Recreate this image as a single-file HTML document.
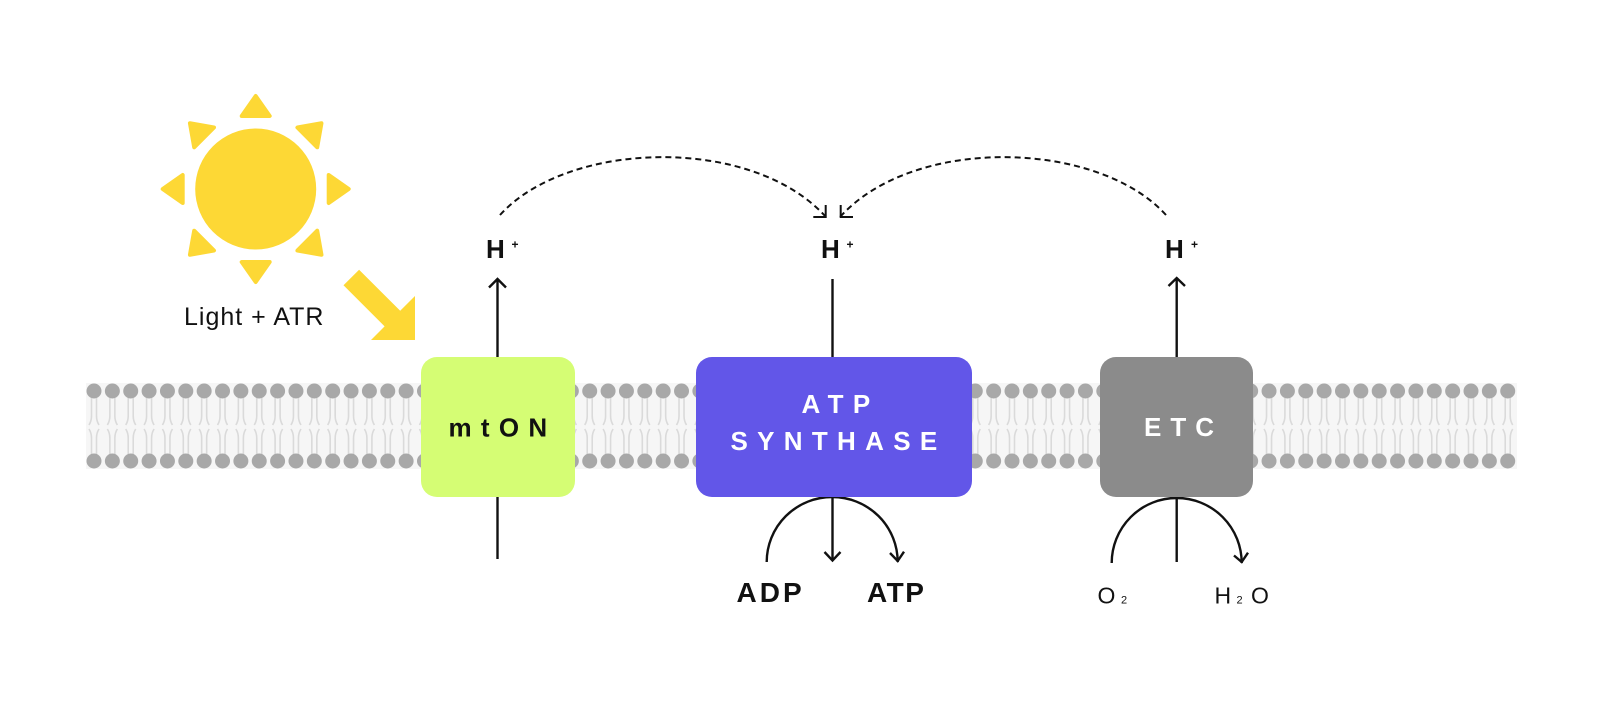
<!DOCTYPE html>
<html>
<head>
<meta charset="utf-8">
<style>
  html, body { margin: 0; padding: 0; background: #ffffff; }
  body { width: 1600px; height: 715px; overflow: hidden; }
  svg { display: block; }
  text { font-family: "Liberation Sans", "DejaVu Sans", sans-serif; }
</style>
</head>
<body>
<svg width="1600" height="715" viewBox="0 0 1600 715" xmlns="http://www.w3.org/2000/svg">
  <defs>
    <g id="lip">
      <path d="M-2.5,398 V416 Q-2.5,421 -5,425 M2.5,398 V416 Q2.5,421 5,425 M-5,429 Q-2.5,433 -2.5,438 V454 M5,429 Q2.5,433 2.5,438 V454" stroke="#dadada" stroke-width="1.6" fill="none"/>
      <circle cx="0" cy="391" r="7.5" fill="#a8a8a8"/>
      <circle cx="0" cy="461" r="7.5" fill="#a8a8a8"/>
    </g>
    <polygon id="ray" points="0,-93 14,-73 -14,-73" fill="#fdd835" stroke="#fdd835" stroke-width="4" stroke-linejoin="round"/>
  </defs>

  <rect x="0" y="0" width="1600" height="715" fill="#ffffff"/>

  <!-- membrane band -->
  <rect x="86" y="383" width="1431" height="86" fill="#f6f6f6"/>
  <g>
    <use href="#lip" x="94.00"/><use href="#lip" x="112.36"/><use href="#lip" x="130.72"/><use href="#lip" x="149.08"/>
    <use href="#lip" x="167.44"/><use href="#lip" x="185.80"/><use href="#lip" x="204.16"/><use href="#lip" x="222.52"/>
    <use href="#lip" x="240.88"/><use href="#lip" x="259.24"/><use href="#lip" x="277.60"/><use href="#lip" x="295.96"/>
    <use href="#lip" x="314.32"/><use href="#lip" x="332.68"/><use href="#lip" x="351.04"/><use href="#lip" x="369.40"/>
    <use href="#lip" x="387.76"/><use href="#lip" x="406.12"/><use href="#lip" x="424.48"/><use href="#lip" x="442.84"/>
    <use href="#lip" x="461.20"/><use href="#lip" x="479.56"/><use href="#lip" x="497.92"/><use href="#lip" x="516.28"/>
    <use href="#lip" x="534.64"/><use href="#lip" x="553.00"/><use href="#lip" x="571.36"/><use href="#lip" x="589.72"/>
    <use href="#lip" x="608.08"/><use href="#lip" x="626.44"/><use href="#lip" x="644.80"/><use href="#lip" x="663.16"/>
    <use href="#lip" x="681.52"/><use href="#lip" x="699.88"/><use href="#lip" x="718.24"/><use href="#lip" x="736.60"/>
    <use href="#lip" x="754.96"/><use href="#lip" x="773.32"/><use href="#lip" x="791.68"/><use href="#lip" x="810.04"/>
    <use href="#lip" x="828.40"/><use href="#lip" x="846.76"/><use href="#lip" x="865.12"/><use href="#lip" x="883.48"/>
    <use href="#lip" x="901.84"/><use href="#lip" x="920.20"/><use href="#lip" x="938.56"/><use href="#lip" x="956.92"/>
    <use href="#lip" x="975.28"/><use href="#lip" x="993.64"/><use href="#lip" x="1012.00"/><use href="#lip" x="1030.36"/>
    <use href="#lip" x="1048.72"/><use href="#lip" x="1067.08"/><use href="#lip" x="1085.44"/><use href="#lip" x="1103.80"/>
    <use href="#lip" x="1122.16"/><use href="#lip" x="1140.52"/><use href="#lip" x="1158.88"/><use href="#lip" x="1177.24"/>
    <use href="#lip" x="1195.60"/><use href="#lip" x="1213.96"/><use href="#lip" x="1232.32"/><use href="#lip" x="1250.68"/>
    <use href="#lip" x="1269.04"/><use href="#lip" x="1287.40"/><use href="#lip" x="1305.76"/><use href="#lip" x="1324.12"/>
    <use href="#lip" x="1342.48"/><use href="#lip" x="1360.84"/><use href="#lip" x="1379.20"/><use href="#lip" x="1397.56"/>
    <use href="#lip" x="1415.92"/><use href="#lip" x="1434.28"/><use href="#lip" x="1452.64"/><use href="#lip" x="1471.00"/>
    <use href="#lip" x="1489.36"/><use href="#lip" x="1507.72"/>
  </g>

  <!-- sun -->
  <g transform="translate(255.7,189)">
    <circle cx="0" cy="0" r="60.5" fill="#fdd835"/>
    <use href="#ray"/>
    <use href="#ray" transform="rotate(45)"/>
    <use href="#ray" transform="rotate(90)"/>
    <use href="#ray" transform="rotate(135)"/>
    <use href="#ray" transform="rotate(180)"/>
    <use href="#ray" transform="rotate(225)"/>
    <use href="#ray" transform="rotate(270)"/>
    <use href="#ray" transform="rotate(315)"/>
  </g>

  <!-- yellow arrow -->
  <polygon points="359.1,269.7 400.2,310.8 415,296 415,340 371,340 384.6,326.4 343.5,285.3" fill="#fdd835"/>

  <text x="184" y="325" font-size="25" letter-spacing="1" fill="#111">Light + ATR</text>

  <!-- dashed curves -->
  <path d="M500,215 C568,140 752,135 826,217" fill="none" stroke="#111" stroke-width="2" stroke-dasharray="6 4"/>
  <path d="M1166,215 C1098,140 914,135 840,217" fill="none" stroke="#111" stroke-width="2" stroke-dasharray="6 4"/>
  <polyline points="813.3,217 825.7,217 825.7,205" fill="none" stroke="#111" stroke-width="2"/>
  <polyline points="853,217 840.7,217 840.7,205" fill="none" stroke="#111" stroke-width="2"/>

  <!-- H+ labels -->
  <text x="486" y="258" font-size="26" font-weight="bold" fill="#111">H</text>
  <text x="511.5" y="248.5" font-size="12" font-weight="bold" fill="#111">+</text>
  <text x="821" y="258" font-size="26" font-weight="bold" fill="#111">H</text>
  <text x="846.5" y="248.5" font-size="12" font-weight="bold" fill="#111">+</text>
  <text x="1165" y="258" font-size="26" font-weight="bold" fill="#111">H</text>
  <text x="1191" y="248.5" font-size="12" font-weight="bold" fill="#111">+</text>

  <!-- vertical lines -->
  <g stroke="#111" stroke-width="2.4" fill="none">
    <line x1="497.5" y1="279" x2="497.5" y2="559"/>
    <polyline points="489,287.5 497.5,279 506,287.5"/>
    <line x1="832.5" y1="279" x2="832.5" y2="560"/>
    <polyline points="824.5,552 832.5,560.5 840.5,552"/>
    <line x1="1176.7" y1="278" x2="1176.7" y2="562"/>
    <polyline points="1168.5,286 1176.7,278 1185,286"/>
    <!-- arcs -->
    <path d="M766.7,562 A65.5,65 0 0 1 897.7,562"/>
    <polyline points="890,553 897.7,561 904,551.7"/>
    <path d="M1111.7,563 A65,65 0 0 1 1241.7,563"/>
    <polyline points="1234,555.5 1241.7,562 1248,552.7"/>
  </g>

  <!-- boxes -->
  <rect x="421" y="357" width="154" height="140" rx="16" ry="16" fill="#d5fd74"/>
  <rect x="696" y="357" width="276" height="140" rx="16" ry="16" fill="#6256e8"/>
  <rect x="1100" y="357" width="153" height="140" rx="16" ry="16" fill="#8b8b8b"/>

  <text x="502.5" y="436.5" text-anchor="middle" font-size="26" font-weight="bold" letter-spacing="9.3" fill="#111">mtON</text>
  <text x="840.5" y="413" text-anchor="middle" font-size="26" font-weight="bold" letter-spacing="9.3" fill="#ffffff">ATP</text>
  <text x="838.5" y="450" text-anchor="middle" font-size="26" font-weight="bold" letter-spacing="9.3" fill="#ffffff">SYNTHASE</text>
  <text x="1183.5" y="436" text-anchor="middle" font-size="26" font-weight="bold" letter-spacing="9" fill="#ffffff">ETC</text>

  <!-- bottom labels -->
  <text x="736.5" y="602" font-size="28" font-weight="bold" letter-spacing="3" fill="#111">ADP</text>
  <text x="867" y="602" font-size="28" font-weight="bold" letter-spacing="1.5" fill="#111">ATP</text>

  <text x="1097.5" y="603.3" font-size="23" fill="#111">O</text>
  <text x="1121" y="603.3" font-size="11" fill="#111">2</text>
  <text x="1214.5" y="603.3" font-size="23" fill="#111">H</text>
  <text x="1236.5" y="603.3" font-size="11" fill="#111">2</text>
  <text x="1251" y="603.3" font-size="23" fill="#111">O</text>
</svg>
</body>
</html>
